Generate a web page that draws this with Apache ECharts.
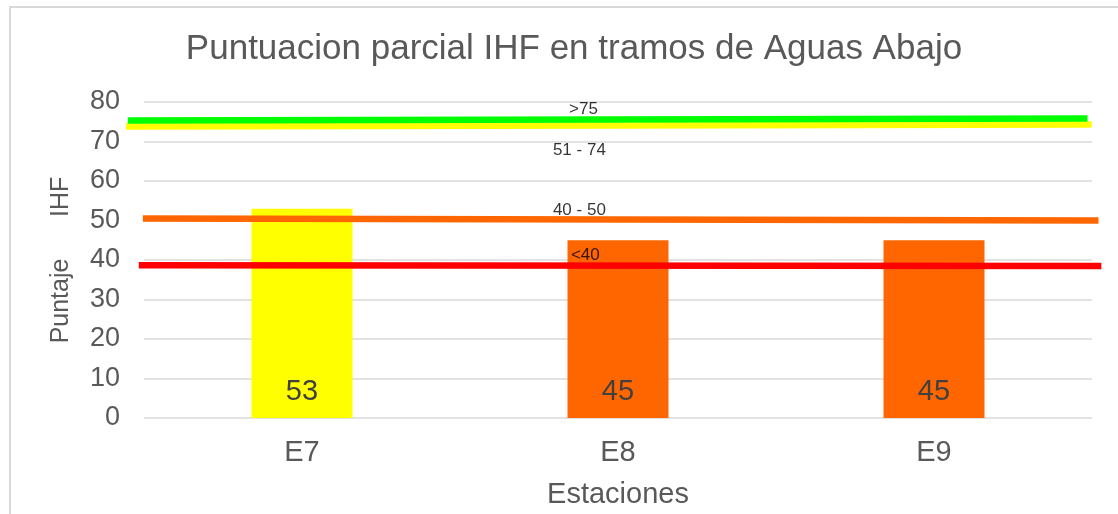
<!DOCTYPE html>
<html>
<head>
<meta charset="utf-8">
<script src="https://cdn.jsdelivr.net/npm/echarts@6/dist/echarts.min.js"></script>
<style>
  html, body { margin: 0; padding: 0; background: #fff; }
  #chart { width: 1118px; height: 514px; }
</style>
</head>
<body>
<div id="chart"></div>
<script>
// estaciones y puntajes
var estaciones = ['E7', 'E8', 'E9'];
var puntajes = [53, 45, 45];
var coloresBarra = ['#FFFF00', '#FF6600', '#FF6600'];

// lineas de umbral (x en unidades de categoria, y en puntaje)
var lineaVerde = [[-0.051, 75.3], [3.003, 75.8]];
var lineaAmarilla = [[-0.057, 73.8], [3.016, 74.3]];
var lineaNaranja = [[-0.003, 50.5], [3.038, 50.0]];
var lineaRoja = [[-0.016, 38.7], [3.047, 38.5]];

// rotulos de rangos
var rangos = ['>75', '51 - 74', '40 - 50', '<40'];
var rangosPos = [[1.399, 78.2], [1.386, 67.8], [1.386, 52.7], [1.405, 41.3]];

var yTicks = { min: 0, max: 80, interval: 10 };

var chart = echarts.init(document.getElementById('chart'));

// linea de umbral, dibujada en la segunda grilla (mas ancha)
function linea (data, color) {
  return {
    type: 'line',
    xAxisIndex: 1,
    yAxisIndex: 1,
    data: data,
    symbol: 'none',
    silent: true,
    lineStyle: { color: color, width: 6.5 },
    z: 5
  };
}

var option = {
  backgroundColor: '#fff',
  animation: false,
  textStyle: { fontFamily: 'Liberation Sans, Arial, sans-serif' },
  title: {
    text: 'Puntuacion parcial IHF en tramos de Aguas Abajo',
    left: 569,
    textAlign: 'center',
    top: 27,
    textStyle: { fontSize: 35, fontWeight: 'normal', color: '#595959' }
  },
  graphic: [{
    type: 'polyline',
    shape: { points: [[10, 520], [10, 7], [1130, 7]] },
    style: { stroke: '#d9d9d9', lineWidth: 2, fill: null }
  }],
  grid: [
    { left: 144, right: 26, top: 102, bottom: 96 },
    // misma escala vertical, 0.1 categoria mas a cada lado
    { left: 112.4, right: -5.6, top: 102, bottom: 96 }
  ],
  xAxis: [{
    type: 'category',
    gridIndex: 0,
    data: estaciones,
    name: 'Estaciones',
    nameLocation: 'middle',
    nameGap: 62,
    nameTextStyle: { fontSize: 29, color: '#595959' },
    axisLine: { show: false },
    axisTick: { show: false },
    axisLabel: { fontSize: 29, color: '#595959', margin: 20 }
  }, {
    type: 'value',
    gridIndex: 1,
    min: -0.1,
    max: 3.1,
    show: false
  }],
  yAxis: [{
    type: 'value',
    gridIndex: 0,
    min: yTicks.min,
    max: yTicks.max,
    interval: yTicks.interval,
    name: 'Puntaje      IHF',
    nameLocation: 'middle',
    nameGap: 70,
    nameTextStyle: { fontSize: 25, color: '#595959' },
    axisLine: { show: false },
    axisTick: { show: false },
    axisLabel: { fontSize: 27, color: '#595959', margin: 24 },
    splitLine: { lineStyle: { color: '#d9d9d9', width: 1.5 } }
  }, {
    type: 'value',
    gridIndex: 1,
    min: yTicks.min,
    max: yTicks.max,
    show: false
  }],
  series: [{
    type: 'bar',
    data: puntajes.map(function (v, i) {
      return { value: v, itemStyle: { color: coloresBarra[i] } };
    }),
    barWidth: 101,
    label: {
      show: true,
      position: 'insideBottom',
      distance: 12,
      fontSize: 29,
      color: '#404040'
    },
    z: 2
  },
  linea(lineaAmarilla, '#FFFF00'),
  linea(lineaVerde, '#00FF00'),
  linea(lineaNaranja, '#FF6600'),
  linea(lineaRoja, '#FF0000'),
  {
    type: 'scatter',
    xAxisIndex: 1,
    yAxisIndex: 1,
    symbolSize: 0,
    silent: true,
    data: rangosPos.map(function (p, i) {
      return { value: p, name: rangos[i] };
    }),
    label: {
      show: true,
      position: 'inside',
      formatter: '{b}',
      fontSize: 17,
      color: '#000'
    },
    z: 10
  }]
};

chart.setOption(option);
</script>
</body>
</html>
